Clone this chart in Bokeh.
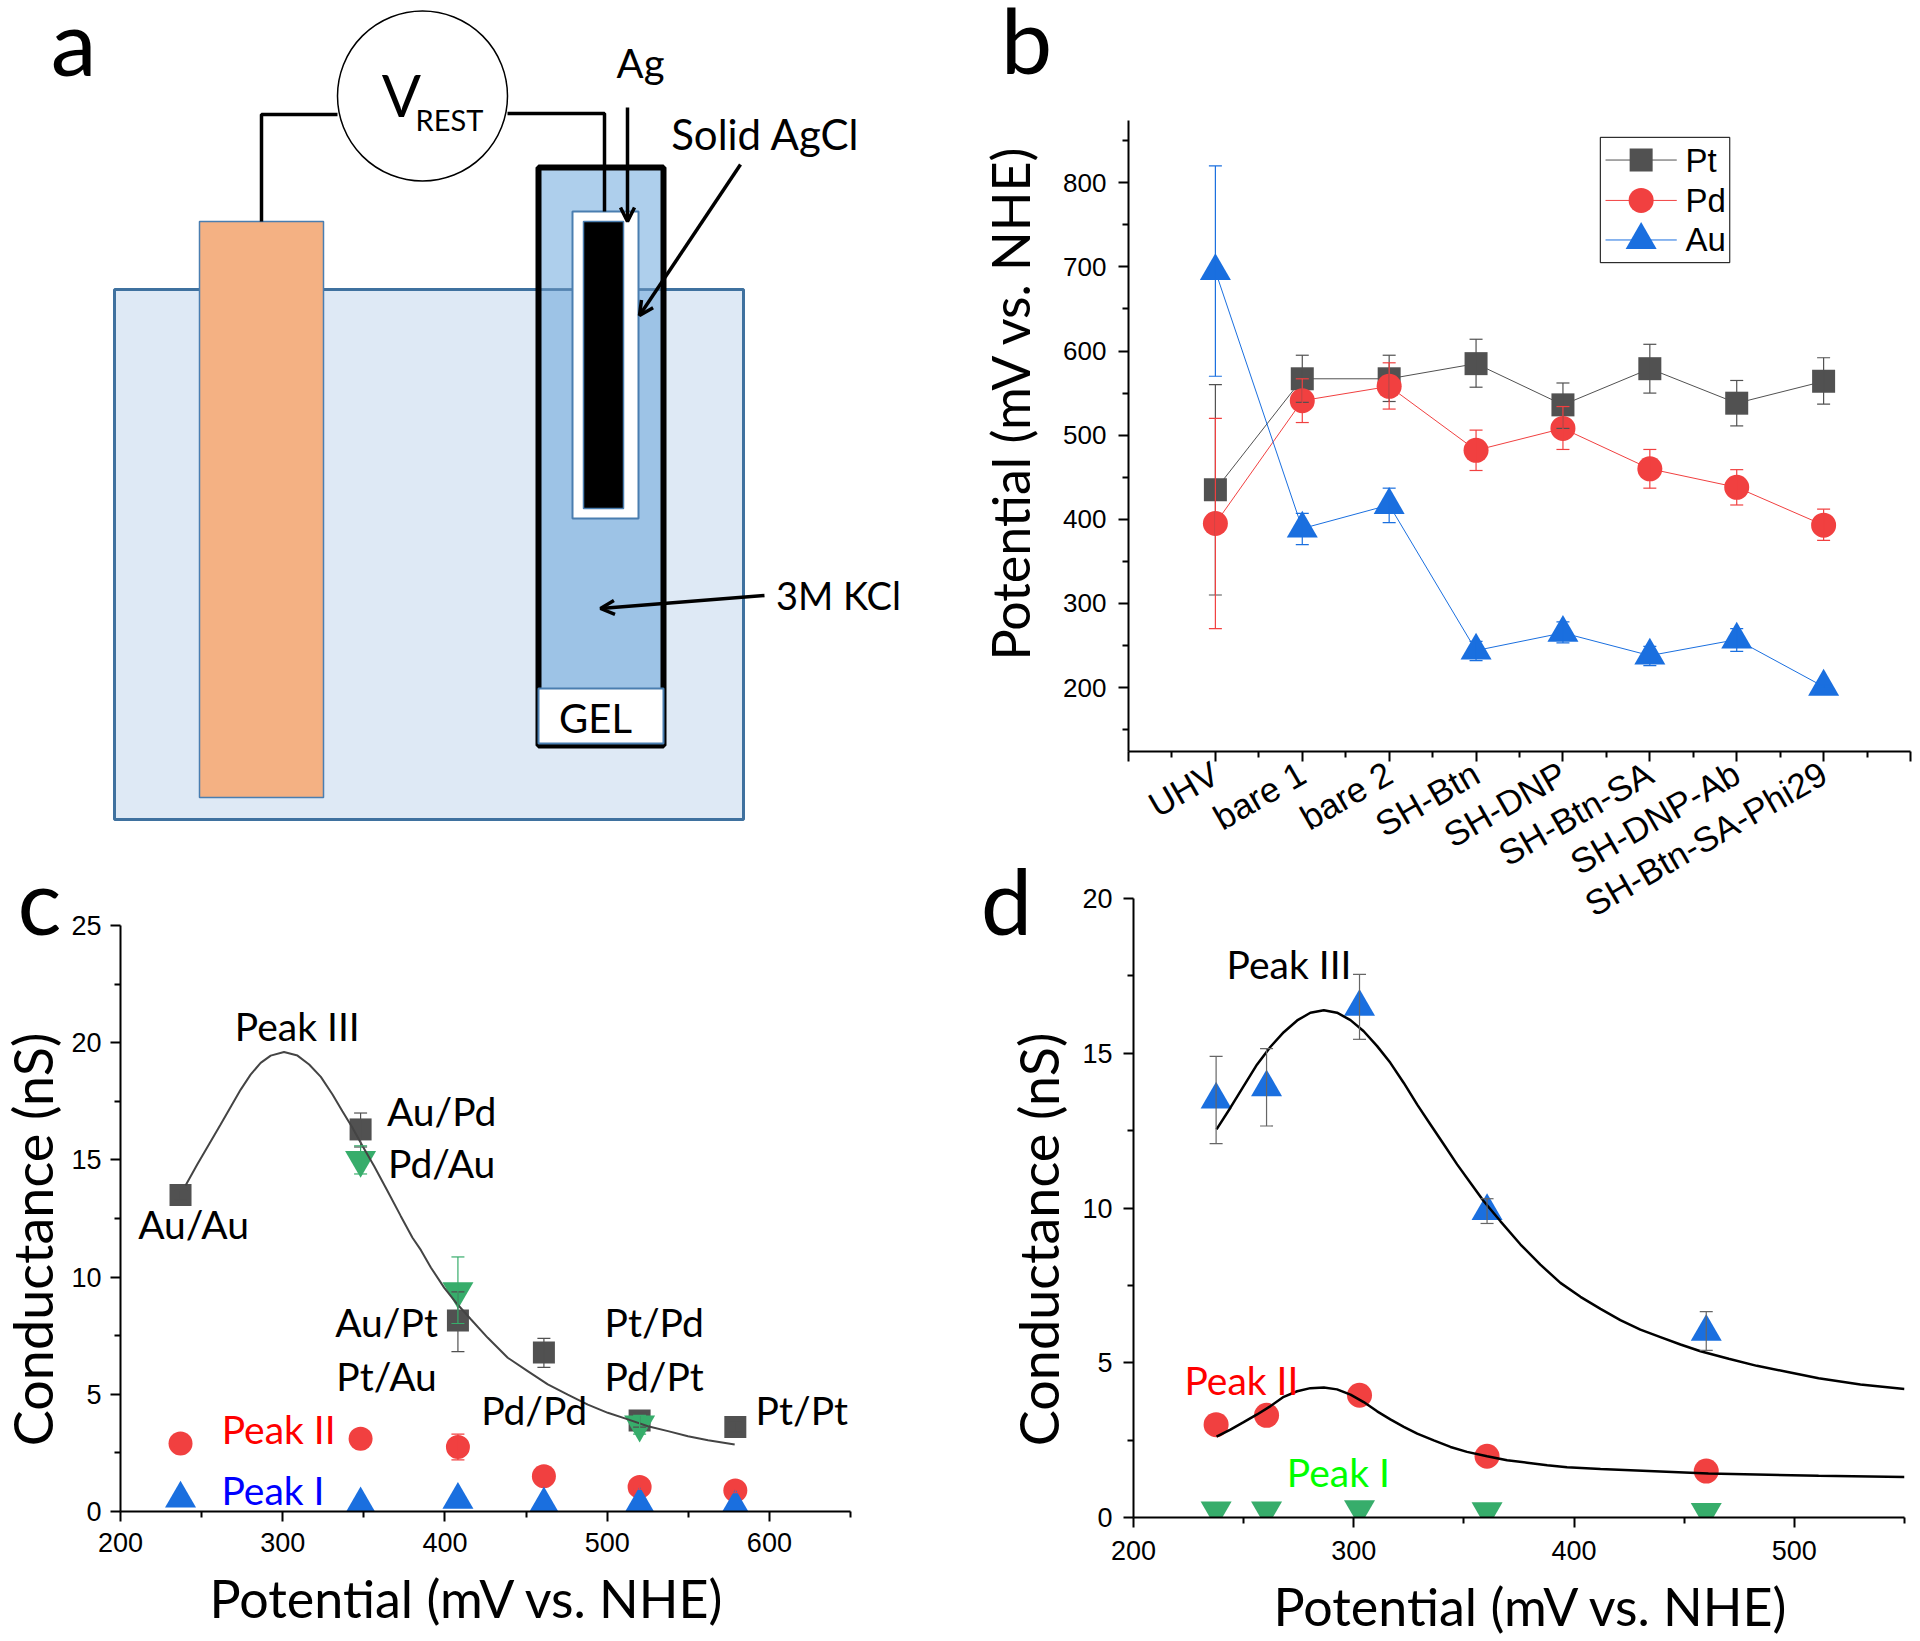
import math
from bokeh.plotting import figure
from bokeh.layouts import row, column
from bokeh.models import (Range1d, FixedTicker, Whisker, TeeHead, ColumnDataSource, Arrow, OpenHead)
from bokeh.core.properties import value
from bokeh.embed import file_html
from bokeh.resources import INLINE

SANS = "Lato"
ARIAL = "Liberation Sans"
C_PT, C_PD, C_AU, C_GR = "#515151", "#F14040", "#1A6FDF", "#37AD6B"

# ---------- panel b data
b_categories = ["UHV", "bare 1", "bare 2", "SH-Btn", "SH-DNP", "SH-Btn-SA", "SH-DNP-Ab", "SH-Btn-SA-Phi29"]
b_pos = [1, 2, 3, 4, 5, 6, 7, 8]
b_pt = [435, 567, 567, 585, 536, 579, 538, 564]
b_pt_low = [310, 539, 540, 557, 508, 550, 511, 537]
b_pt_up = [560, 595, 595, 614, 562, 608, 565, 592]
b_pd = [395, 541, 558, 482, 508, 460, 438, 393]
b_pd_low = [270, 515, 531, 458, 483, 437, 417, 375]
b_pd_up = [520, 567, 586, 506, 534, 483, 459, 412]
b_au = [695, 389, 417, 244, 265, 238, 257, 201]
b_au_low = [570, 370, 396, 232, 253, 226, 243, 199]
b_au_up = [820, 407, 437, 255, 278, 249, 270, 203]

# ---------- panel c data
c_x = [237, 348, 408, 461, 520, 579]
c_iii = [13.5, 16.3, 8.15, 6.78, 3.88, 3.6]
c_iii_low = [13.3, 15.55, 6.82, 6.15, 3.6, 3.4]
c_iii_up = [13.7, 17.0, 9.37, 7.39, 4.2, 3.8]
c_green_x = [348, 408, 520]
c_green = [15.0, 9.4, 3.71]
c_green_low = [14.4, 8.02, 3.3]
c_green_up = [15.6, 10.86, 4.1]
c_ii = [2.9, 3.1, 2.75, 1.5, 1.05, 0.9]
c_ii_low = [2.8, 3.0, 2.2, 1.4, 0.95, 0.8]
c_ii_up = [3.0, 3.2, 3.3, 1.6, 1.15, 1.0]
c_i = [0.55, 0.3, 0.5, 0.3, 0.3, 0.2]
c_fit_x = [240.1, 247.3, 254.5, 261.7, 267.9, 274.1, 280.2, 286.4, 292.6, 300.8, 309.1, 316.3, 323.5, 330.7, 336.8,
           343.0, 349.2, 356.4, 364.6, 372.8, 380.0, 385.2, 391.4, 399.6, 407.8, 416.1, 426.4, 438.7, 451.0, 463.4,
           475.7, 488.1, 500.4, 512.8, 525.1, 537.5, 549.8, 562.2, 578.6]
c_fit_y = [13.91, 14.80, 15.66, 16.51, 17.26, 18.0, 18.64, 19.14, 19.45, 19.60, 19.45, 19.07, 18.54, 17.79, 17.08,
           16.37, 15.59, 14.73, 13.67, 12.60, 11.68, 11.15, 10.40, 9.54, 8.83, 8.19, 7.41, 6.56, 5.99, 5.42,
           4.99, 4.56, 4.21, 3.93, 3.64, 3.43, 3.21, 3.04, 2.86]

# ---------- panel d data
d_x = [237.5, 260.4, 302.6, 360.5, 460]
d_iii = [13.5, 13.9, 16.5, 9.9, 6.0]
d_iii_low = [12.08, 12.65, 15.45, 9.5, 5.4]
d_iii_up = [14.9, 15.15, 17.55, 10.3, 6.65]
d_ii = [3.0, 3.3, 3.95, 1.98, 1.5]
d_i = [0.23, 0.23, 0.27, 0.2, 0.18]
d_fit3_x = [237.7, 244, 250, 256.1, 262.2, 268.2, 274.3, 280.3, 286.4, 292.4, 298.5, 304.5, 310.6, 316.6, 322.7, 328.8,
            334.8, 340.9, 346.9, 353, 359, 366.6, 375.7, 384.7, 393.8, 402.9, 412, 421, 430.1, 439.2, 448.3, 457.4,
            470.2, 483, 497, 511, 530, 550]
d_fit3_y = [12.54, 13.24, 13.94, 14.64, 15.21, 15.68, 16.06, 16.31, 16.39, 16.31, 16.07, 15.71, 15.23, 14.69, 14.04,
            13.34, 12.70, 12.05, 11.41, 10.81, 10.22, 9.57, 8.82, 8.17, 7.58, 7.13, 6.74, 6.38, 6.07, 5.83, 5.59, 5.37,
            5.13, 4.9, 4.7, 4.5, 4.3, 4.15]
d_fit2_x = [237.7, 244, 250, 256.1, 262.2, 268.2, 274.3, 280.3, 286.4, 292.4, 298.5, 304.5, 310.6, 316.6, 322.7, 328.8,
            336.3, 343.9, 351.4, 360.5, 369.6, 378.7, 387.8, 396.8, 412, 461, 511, 550]
d_fit2_y = [2.61, 2.84, 3.08, 3.33, 3.6, 3.9, 4.08, 4.18, 4.2, 4.14, 3.97, 3.73, 3.43, 3.17, 2.93, 2.71,
            2.49, 2.28, 2.12, 1.98, 1.85, 1.77, 1.69, 1.62, 1.57, 1.42, 1.35, 1.31]

# ---------- page geometry
X_SPLIT, Y_SPLIT, Y_TOP_END, PAGE_W, PAGE_H, OVER_H = 960, 870, 1000, 1912, 1633, 1640


def make_fig(x0, y0, x1, y1, l, r, t, b, xr, yr):
    p = figure(width=x1 - x0, height=y1 - y0, x_range=Range1d(*xr), y_range=Range1d(*yr),
               output_backend="svg", toolbar_location=None, frame_align=False,
               min_border_left=l - x0, min_border_right=x1 - r, min_border_top=t - y0, min_border_bottom=y1 - b)
    p.background_fill_color = None
    p.border_fill_color = None
    p.outline_line_color = None
    p.grid.visible = False
    return p


def style_axis(ax, major, minor, size="27px", standoff=4):
    ax.ticker = FixedTicker(ticks=major, minor_ticks=minor)
    ax.axis_line_width = 2
    ax.axis_line_color = "#000000"
    ax.major_tick_line_color = "#000000"
    ax.major_tick_line_width = 2
    ax.minor_tick_line_color = "#000000"
    ax.minor_tick_line_width = 2
    ax.major_tick_in = 0
    ax.major_tick_out = 10
    ax.minor_tick_in = 0
    ax.minor_tick_out = 6
    ax.major_label_text_font = ARIAL
    ax.major_label_text_font_size = size
    ax.major_label_text_color = "#000000"
    ax.major_label_standoff = standoff


def series(p, x, y, low, up, color, marker, size, whisker=None, cap=13):
    if low is not None:
        src = ColumnDataSource(dict(x=x, low=low, up=up))
        wc = whisker or color
        p.add_layout(Whisker(source=src, base="x", upper="up", lower="low", level="glyph",
                             line_color=wc, line_width=1.2,
                             upper_head=TeeHead(size=cap, line_color=wc, line_width=1.2),
                             lower_head=TeeHead(size=cap, line_color=wc, line_width=1.2)))
    p.scatter(x, y, marker=marker, size=size, fill_color=color, line_color=color, line_width=0)


def texts(p, xs, ys, labels, size, color="#000000", font=SANS, align="center", angle=0):
    p.text(xs, ys, text=labels, text_font=value(font), text_font_size=value(size), text_color=color,
           text_align=align, text_baseline="middle", angle=angle)


# ---------- panel a : a diagram laid out in page pixels
pa = make_fig(8, 8, X_SPLIT, Y_TOP_END, 8, X_SPLIT, 8, Y_TOP_END, (8, X_SPLIT), (Y_TOP_END, 8))
pa.xaxis.visible = False
pa.yaxis.visible = False
EDGE = "#4A7EB0"
bath = dict(left=114, right=743, top=290, bottom=820)
pa.quad(**bath, fill_color="#DEE9F5", line_color="#3F719F", line_width=3)
pa.quad(left=199, right=323, top=222, bottom=798, fill_color="#F4B183", line_color=EDGE, line_width=1.5)
pa.line([261, 261, 337], [222, 115, 115], line_color="#000000", line_width=3.5)
pa.line([507, 604, 604], [114, 114, 211], line_color="#000000", line_width=3.5)
pa.circle(x=[422], y=[96.5], radius=85, fill_color="#FFFFFF", line_color="#000000", line_width=1.5)
pa.quad(left=538, right=663, top=168, bottom=290, fill_color="#AECFEC", line_color=None)
pa.quad(left=538, right=663, top=290, bottom=690, fill_color="#9DC3E6", line_color=None)
pa.line([538, 663], [290, 290], line_color="#3F719F", line_width=3, line_alpha=0.7)
pa.quad(left=538, right=663, top=168, bottom=746, fill_color=None, line_color="#000000", line_width=6)
pa.quad(left=538, right=663, top=689, bottom=744, fill_color="#FFFFFF", line_color=EDGE, line_width=2)
pa.quad(left=572, right=638, top=212, bottom=519, fill_color="#FFFFFF", line_color=EDGE, line_width=2)
pa.quad(left=583, right=623, top=222, bottom=509, fill_color="#000000", line_color=EDGE, line_width=1.5)
pa.line([604, 604], [168, 212], line_color="#000000", line_width=3.5)
for (ax0, ay0, ax1, ay1) in [(627, 108, 627, 222), (740, 165, 639, 316), (764, 596, 600, 609)]:
    pa.add_layout(Arrow(end=OpenHead(size=14, line_width=3.5, line_color="#000000"), x_start=ax0, y_start=ay0,
                        x_end=ax1, y_end=ay1, line_color="#000000", line_width=3.5))
texts(pa, [640, 595], [63, 718], ["Ag", "GEL"], "40px")
texts(pa, [765], [134], ["Solid AgCl"], "42px")
texts(pa, [838], [595], ["3M KCl"], "38px")
texts(pa, [401], [95], ["V"], "58px")
texts(pa, [449], [120], ["REST"], "29px")

# ---------- panel b
pb = make_fig(X_SPLIT, 8, PAGE_W, Y_TOP_END, 1128, 1910, 121, 752, (0, 9), (124, 874))
style_axis(pb.yaxis[0], [200, 300, 400, 500, 600, 700, 800], [150, 250, 350, 450, 550, 650, 750, 850], "26px", 12)
style_axis(pb.xaxis[0], list(range(10)), [i + 0.5 for i in range(9)], "35px", 9)
pb.xaxis[0].major_label_overrides = {0: "", 9: "", **{v: c for v, c in zip(b_pos, b_categories)}}
pb.xaxis[0].major_label_orientation = math.radians(30)
pb.line(b_pos, b_pt, line_color=C_PT, line_width=1)
series(pb, b_pos, b_pt, b_pt_low, b_pt_up, C_PT, "square", 23)
pb.line(b_pos, b_pd, line_color=C_PD, line_width=1)
series(pb, b_pos, b_pd, b_pd_low, b_pd_up, C_PD, "circle", 25)
pb.line(b_pos, b_au, line_color=C_AU, line_width=1)
series(pb, b_pos, b_au, b_au_low, b_au_up, C_AU, "triangle", 31)
# legend
leg_names = ["Pt", "Pd", "Au"]
leg_y = [827, 779, 732]
pb.quad(left=5.43, right=6.92, top=854, bottom=705, fill_color="#FFFFFF", line_color="#000000", line_width=1)
for name, yy, col, mk, sz in zip(leg_names, leg_y, [C_PT, C_PD, C_AU], ["square", "circle", "triangle"], [23, 25, 31]):
    pb.line([5.49, 6.31], [yy, yy], line_color=col, line_width=1)
    pb.scatter([5.9], [yy], marker=mk, size=sz, fill_color=col, line_width=0)
    texts(pb, [6.41], [yy], [name], "33px", font=ARIAL, align="left")

# ---------- panel c
pc = make_fig(8, Y_SPLIT, X_SPLIT, PAGE_H, 120, 850, 926, 1512, (200, 650), (0, 25))
style_axis(pc.yaxis[0], [0, 5, 10, 15, 20, 25], [2.5, 7.5, 12.5, 17.5, 22.5], standoff=9)
style_axis(pc.xaxis[0], [200, 300, 400, 500, 600], [250, 350, 450, 550, 650], standoff=11)
series(pc, c_x, c_iii, c_iii_low, c_iii_up, C_PT, "square", 22)
series(pc, c_green_x, c_green, c_green_low, c_green_up, C_GR, "inverted_triangle", 31)
series(pc, c_x, c_ii, c_ii_low, c_ii_up, C_PD, "circle", 24)
series(pc, c_x, c_i, None, None, C_AU, "triangle", 31)
pc.line(c_fit_x, c_fit_y, line_color="#444444", line_width=2)
texts(pc, [309, 398, 398, 245, 364, 364, 529, 529, 455, 620],
      [20.7, 17.07, 14.87, 12.27, 8.1, 5.8, 8.1, 5.8, 4.33, 4.33],
      ["Peak III", "Au/Pd", "Pd/Au", "Au/Au", "Au/Pt", "Pt/Au", "Pt/Pd", "Pd/Pt", "Pd/Pd", "Pt/Pt"], "39px")
texts(pc, [297.5], [3.5], ["Peak II"], "39px", color="#FF0000")
texts(pc, [294], [0.9], ["Peak I"], "39px", color="#0000FF")

# ---------- panel d
pd_ = make_fig(X_SPLIT, Y_SPLIT, PAGE_W, PAGE_H, 1133, 1904, 899, 1518, (200, 550), (0, 20))
style_axis(pd_.yaxis[0], [0, 5, 10, 15, 20], [2.5, 7.5, 12.5, 17.5], standoff=11)
style_axis(pd_.xaxis[0], [200, 300, 400, 500], [250, 350, 450, 550], standoff=13)
series(pd_, d_x, d_iii, d_iii_low, d_iii_up, C_AU, "triangle", 31, whisker="#666666")
series(pd_, d_x, d_ii, None, None, C_PD, "circle", 25)
series(pd_, d_x, d_i, None, None, C_GR, "inverted_triangle", 31)
pd_.line(d_fit3_x, d_fit3_y, line_color="#000000", line_width=2.5)
pd_.line(d_fit2_x, d_fit2_y, line_color="#000000", line_width=2.5)
texts(pd_, [270.6], [17.87], ["Peak III"], "39px")
texts(pd_, [249], [4.43], ["Peak II"], "39px", color="#FF0000")
texts(pd_, [293], [1.46], ["Peak I"], "39px", color="#00FF00")

# ---------- a page-sized transparent layer for panel letters and axis titles (they lie outside the plot frames)
over = make_fig(8, 8, PAGE_W, OVER_H, 8, PAGE_W, 8, OVER_H, (8, PAGE_W), (OVER_H, 8))
over.xaxis.visible = False
over.yaxis.visible = False
over.margin = (8 - PAGE_H, 0, 0, 0)
texts(over, [73, 1026, 39, 1006], [41, 39, 900, 900], ["a", "b", "c", "d"], "92px")
texts(over, [467, 1531], [1598, 1606], ["Potential (mV vs. NHE)", "Potential (mV vs. NHE)"], "52px")
texts(over, [1009], [403], ["Potential (mV vs. NHE)"], "52px", angle=math.pi / 2)
texts(over, [32, 1038], [1240, 1240], ["Conductance (nS)", "Conductance (nS)"], "54px", angle=math.pi / 2)

top = row(pa, pb, spacing=0)
bottom = row(pc, pd_, spacing=0, margin=(Y_SPLIT - Y_TOP_END, 0, 0, 0))
page = column(top, bottom, over, spacing=0, margin=(7, 0, 0, 8))
open("out.html", "w").write(file_html(page, INLINE))
